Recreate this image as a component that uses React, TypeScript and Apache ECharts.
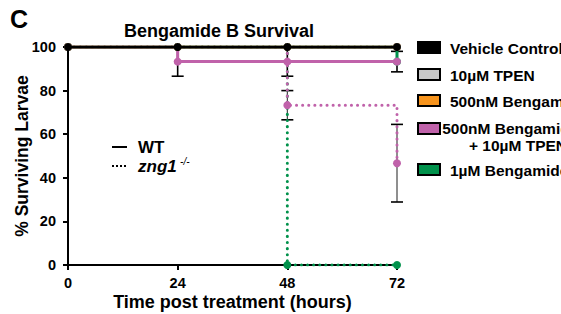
import React, { useEffect, useRef } from "react";
import * as echarts from "echarts";

const timePoints = [0, 24, 48, 72];
const xTicks = [0, 24, 48, 72];
const yTicks = [0, 20, 40, 60, 80, 100];

// WT (solid)
const vehicleWT = [100, 100, 100, 100];
const tpenWT = [100, 100, 100, 100];
const beng500WT = [100, 100, 100, 100];
const bengTpenWT = [100, 93.3, 93.3, 93.3];
const beng1WT = [100, 100, 100, 93.3];
const bengTpenWTErr = [0, 6.7, 6.7, 4.7];

// zng1 -/- (dotted)
const vehicleZng = [100, 100, 100, 100];
const tpenZng = [100, 100, 100, 100];
const beng500Zng = [100, 100, 100, 100];
const bengTpenZng = [100, 100, 73.3, 46.7];
const beng1Zng = [100, 100, 0, 0];
const bengTpenZngErr = [0, 0, 6.7, 17.8];

const legendNames = ["Vehicle Control", "10µM TPEN", "500nM Bengamide B", "500nM Bengamide B", "1µM Bengamide B"];
const legendSub = ["", "", "", "+ 10µM TPEN", ""];
const colors = ["#000000", "#c8c8c8", "#f7941d", "#c062aa", "#00914b"];

const FONT = "'Liberation Sans', Arial, sans-serif";

export default function App() {
  const ref = useRef<HTMLDivElement>(null);
  useEffect(() => {
    if (!ref.current) return;
    const chart = echarts.init(ref.current, undefined, { renderer: "svg" });
    const pts = (ys: number[]) => timePoints.map((t, i) => [t, ys[i]]);
    const errData = (ys: number[], es: number[]) =>
      timePoints.map((t, i) => [t, ys[i] - es[i], ys[i] + es[i]]).filter((_, i) => es[i] > 0);

    const errSeries = (ys: number[], es: number[], color: string, lw: number) => ({
      type: "custom",
      z: 1,
      data: errData(ys, es),
      renderItem: (_p: any, api: any) => {
        const x = api.value(0);
        const lo = api.coord([x, api.value(1)]);
        const hi = api.coord([x, api.value(2)]);
        const cap = 6;
        const st = { stroke: color, lineWidth: lw };
        const capSt = { stroke: "#000", lineWidth: 1.6 };
        return {
          type: "group",
          children: [
            { type: "line", shape: { x1: lo[0], y1: lo[1], x2: hi[0], y2: hi[1] }, style: st },
            { type: "line", shape: { x1: lo[0] - cap, y1: lo[1], x2: lo[0] + cap, y2: lo[1] }, style: capSt },
            { type: "line", shape: { x1: hi[0] - cap, y1: hi[1], x2: hi[0] + cap, y2: hi[1] }, style: capSt },
          ],
        };
      },
    });

    const lineSeries = (name: string, ys: number[], color: string, dotted: boolean, z: number) => ({
      name,
      type: "line",
      step: "end",
      z,
      data: pts(ys),
      symbol: "circle",
      symbolSize: 8,
      showSymbol: true,
      itemStyle: { color },
      lineStyle: dotted
        ? { color, width: 3, type: [0.1, 6], cap: "round" }
        : { color, width: 3 },
    });

    const legendGraphics: any[] = [];
    const boxY = [42, 69, 95, 123, 164];
    const textY = [48, 75, 101, 128, 170];
    legendNames.forEach((n, i) => {
      legendGraphics.push({
        type: "rect",
        shape: { x: 418, y: boxY[i], width: 22, height: 11 },
        style: { fill: colors[i], stroke: "#000", lineWidth: 2 },
      });
      if (legendSub[i]) {
        legendGraphics.push({
          type: "text",
          style: { x: 518, y: textY[i], text: n, font: `bold 15.5px ${FONT}`, fill: "#000", align: "center", verticalAlign: "middle" },
        });
        legendGraphics.push({
          type: "text",
          style: { x: 518, y: textY[i] + 17, text: legendSub[i], font: `bold 15.5px ${FONT}`, fill: "#000", align: "center", verticalAlign: "middle" },
        });
      } else {
        legendGraphics.push({
          type: "text",
          style: { x: 450, y: textY[i], text: n, font: `bold 15.5px ${FONT}`, fill: "#000", verticalAlign: "middle" },
        });
      }
    });

    chart.setOption({
      animation: false,
      graphic: [
        { type: "text", style: { x: 10, y: 6, text: "C", font: `bold 25px ${FONT}`, fill: "#000" } },
        { type: "text", style: { x: 219, y: 31, text: "Bengamide B Survival", font: `bold 18px ${FONT}`, fill: "#000", align: "center", verticalAlign: "middle" } },
        { type: "line", shape: { x1: 112, y1: 147, x2: 127, y2: 147 }, style: { stroke: "#000", lineWidth: 2 } },
        { type: "text", style: { x: 138, y: 147, text: "WT", font: `bold 17px ${FONT}`, fill: "#000", verticalAlign: "middle" } },
        { type: "line", shape: { x1: 112, y1: 166, x2: 128, y2: 166 }, style: { stroke: "#000", lineWidth: 2, lineDash: [2, 2] } },
        {
          type: "text",
          style: {
            x: 138,
            y: 166,
            verticalAlign: "middle",
            text: "{a|zng1} {b|-/-}",
            rich: {
              a: { font: `italic bold 17px ${FONT}`, fill: "#000" },
              b: { font: `italic 10px ${FONT}`, fill: "#000", padding: [0, 0, 10, 0] },
            },
          },
        },
        ...legendGraphics,
      ],
      grid: { left: 68, right: 164, top: 47, bottom: 49, outerBoundsMode: "none", containLabel: false },
      xAxis: {
        type: "value",
        min: 0,
        max: 72,
        interval: 24,
        name: "Time post treatment (hours)",
        nameLocation: "middle",
        nameGap: 28,
        nameMoveOverlap: false,
        nameTextStyle: { fontFamily: FONT, fontWeight: "bold", fontSize: 18, color: "#000" },
        axisLine: { lineStyle: { color: "#000", width: 2 } },
        axisTick: { length: 5, lineStyle: { color: "#000", width: 2 } },
        axisLabel: {
          margin: 10,
          fontFamily: FONT,
          fontWeight: "bold",
          fontSize: 14.5,
          color: "#000",
          formatter: (v: number) => (xTicks.includes(v) ? String(v) : ""),
        },
        splitLine: { show: false },
      },
      yAxis: {
        type: "value",
        min: 0,
        max: 100,
        interval: 20,
        name: "% Surviving Larvae",
        nameLocation: "middle",
        nameGap: 37,
        nameMoveOverlap: false,
        nameTextStyle: { fontFamily: FONT, fontWeight: "bold", fontSize: 17.5, color: "#000" },
        axisLine: { show: true, lineStyle: { color: "#000", width: 2 } },
        axisTick: { show: true, length: 5, lineStyle: { color: "#000", width: 2 } },
        axisLabel: {
          margin: 12,
          fontFamily: FONT,
          fontWeight: "bold",
          fontSize: 14.5,
          color: "#000",
          formatter: (v: number) => (yTicks.includes(v) ? String(v) : ""),
        },
        splitLine: { show: false },
      },
      series: [
        errSeries(bengTpenWT, bengTpenWTErr, "#000", 1.6),
        errSeries(bengTpenZng, bengTpenZngErr, "#333", 1.1),
        lineSeries("1µM Bengamide B zng1", beng1Zng, colors[4], true, 2),
        lineSeries("500nM Bengamide B + TPEN zng1", bengTpenZng, colors[3], true, 3),
        lineSeries("500nM Bengamide B zng1", beng500Zng, colors[2], true, 2),
        lineSeries("10µM TPEN zng1", tpenZng, colors[1], true, 2),
        lineSeries("Vehicle Control zng1", vehicleZng, colors[0], true, 2),
        lineSeries("1µM Bengamide B WT", beng1WT, colors[4], false, 3),
        lineSeries("500nM Bengamide B + TPEN WT", bengTpenWT, colors[3], false, 4),
        lineSeries("500nM Bengamide B WT", beng500WT, colors[2], false, 4),
        lineSeries("10µM TPEN WT", tpenWT, colors[1], false, 4),
        lineSeries("Vehicle Control WT", vehicleWT, colors[0], false, 5),
      ],
    });
    return () => chart.dispose();
  }, []);
  return <div ref={ref} style={{ width: 561, height: 314, position: "absolute", left: 0, top: 0 }} />;
}
